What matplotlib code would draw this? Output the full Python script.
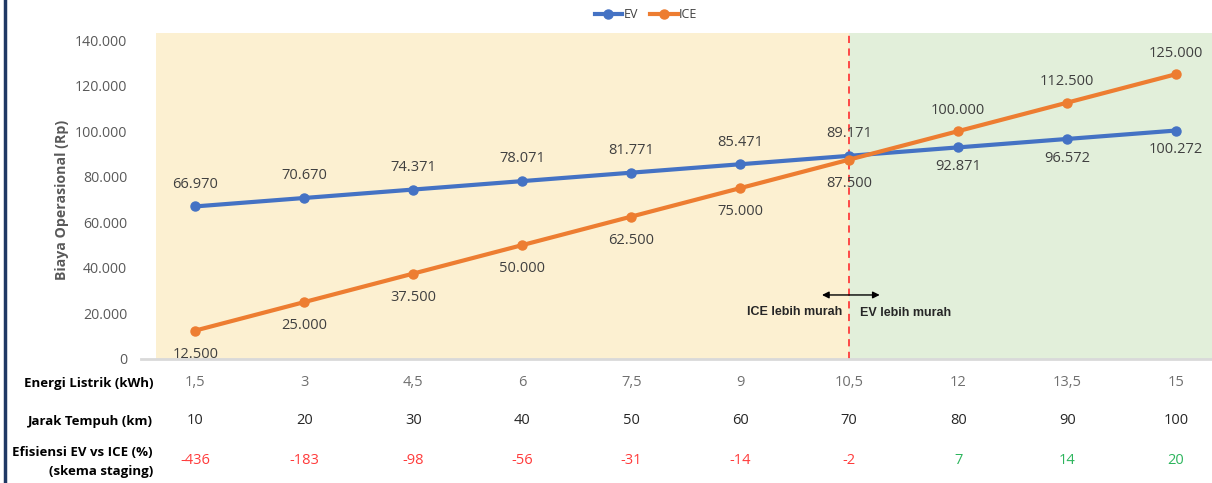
import matplotlib
matplotlib.use("Agg")
import matplotlib.pyplot as plt
from matplotlib.lines import Line2D
from matplotlib.ticker import FuncFormatter

plt.rcParams["font.family"] = ["Open Sans", "DejaVu Sans"]

energi = ["1,5", "3", "4,5", "6", "7,5", "9", "10,5", "12", "13,5", "15"]
jarak = ["10", "20", "30", "40", "50", "60", "70", "80", "90", "100"]
efisiensi = [-436, -183, -98, -56, -31, -14, -2, 7, 14, 20]

ev = [66970, 70670, 74371, 78071, 81771, 85471, 89171, 92871, 96572, 100272]
ice = [12500, 25000, 37500, 50000, 62500, 75000, 87500, 100000, 112500, 125000]

# index where EV becomes cheaper (dashed line sits here)
break_idx = 6

W, H = 1212, 483
fig = plt.figure(figsize=(W / 100, H / 100), dpi=100)
ax = fig.add_axes([141 / W, (H - 359) / H, 1 - 141 / W, (359 - 33) / H])

x = list(range(len(ev)))
x_right = (W - 196) / 108.9
ax.set_xlim(-0.5, x_right)
ax.set_ylim(0, 140000 * 326 / 319)

# background zones
ax.axvspan(-0.358, break_idx, color="#FCF0D1", zorder=0, lw=0)
ax.axvspan(break_idx, x_right + 1, color="#E2EFDA", zorder=0, lw=0)
ax.axvline(break_idx, color="#FF3B3B", ls=(0, (4, 3)), lw=1.3, zorder=1)

ax.plot(x, ev, color="#4472C4", lw=3, marker="o", ms=6.5, label="EV", zorder=3)
ax.plot(x, ice, color="#ED7D31", lw=3, marker="o", ms=6.5, label="ICE", zorder=3)

lab_kw = dict(textcoords="offset points", ha="center", va="center",
              fontsize=10.5, color="#404040", zorder=4)
for i in x:
    ev_up = i <= break_idx
    ax.annotate(f"{ev[i]:,}".replace(",", "."), (x[i], ev[i]),
                xytext=(0, 16 if ev_up else -14), **lab_kw)
    ax.annotate(f"{ice[i]:,}".replace(",", "."), (x[i], ice[i]),
                xytext=(0, -17 if ev_up else 15), **lab_kw)

# arrow + zone labels
ax.annotate("", xy=(5.75, 28100), xytext=(6.28, 28100),
            arrowprops=dict(arrowstyle="<|-|>", color="black", lw=1,
                            mutation_scale=10, shrinkA=0, shrinkB=0))
narrow = ["Liberation Sans", "DejaVu Sans"]
ax.text(5.94, 20600, "ICE lebih murah", ha="right", va="center",
        fontsize=9, fontweight="bold", family=narrow, color="#262626")
ax.text(6.10, 20300, "EV lebih murah", ha="left", va="center",
        fontsize=9, fontweight="bold", family=narrow, color="#262626")

# axes styling
for s in ["top", "right", "left"]:
    ax.spines[s].set_visible(False)
ax.spines["bottom"].set_color("#D9D9D9")
ax.spines["bottom"].set_linewidth(2)
ax.set_xticks([])
ax.set_yticks(range(0, 140001, 20000))
ax.yaxis.set_major_formatter(FuncFormatter(lambda v, p: f"{int(v):,}".replace(",", ".")))
ax.tick_params(axis="y", length=0, pad=10, labelsize=10.2, labelcolor="#595959")

fig.text(62 / W, 1 - 200 / H, "Biaya Operasional (Rp)", rotation=90,
         ha="center", va="center", fontsize=10.2, fontweight="bold", color="#595959")

# table rows under the chart
trans = ax.get_xaxis_transform()
rows = [(383, energi, "#707070"), (421, jarak, "#262626")]
for ypx, vals, col in rows:
    for i, v in enumerate(vals):
        ax.text(i, -(ypx - 359) / 326, v, transform=trans, ha="center",
                va="center", fontsize=10.5, color=col, clip_on=False)
for i, v in enumerate(efisiensi):
    col = "#FF3B3B" if v < 0 else "#2DB55D"
    ax.text(i, -(460 - 359) / 326, str(v), transform=trans, ha="center",
            va="center", fontsize=10.5, color=col, clip_on=False)

row_kw = dict(ha="right", va="center", fontsize=9.5, fontweight="bold", color="black")
fig.text(153 / W, 1 - 383 / H, "Energi Listrik (kWh)", **row_kw)
fig.text(153 / W, 1 - 421 / H, "Jarak Tempuh (km)", **row_kw)
fig.text(153 / W, 1 - 453 / H, "Efisiensi EV vs ICE (%)", **row_kw)
fig.text(153 / W, 1 - 472 / H, "(skema staging)", **row_kw)

fig.legend(loc="center", bbox_to_anchor=(646 / W, 1 - 15 / H), ncol=2,
           frameon=False, fontsize=9, handlelength=2.2, handletextpad=0.1,
           columnspacing=1.0, labelcolor="#404040")

fig.add_artist(Line2D([5 / W, 5 / W], [0, 1], color="#1F3864", lw=2.5))

fig.savefig("out.png", dpi=100)
